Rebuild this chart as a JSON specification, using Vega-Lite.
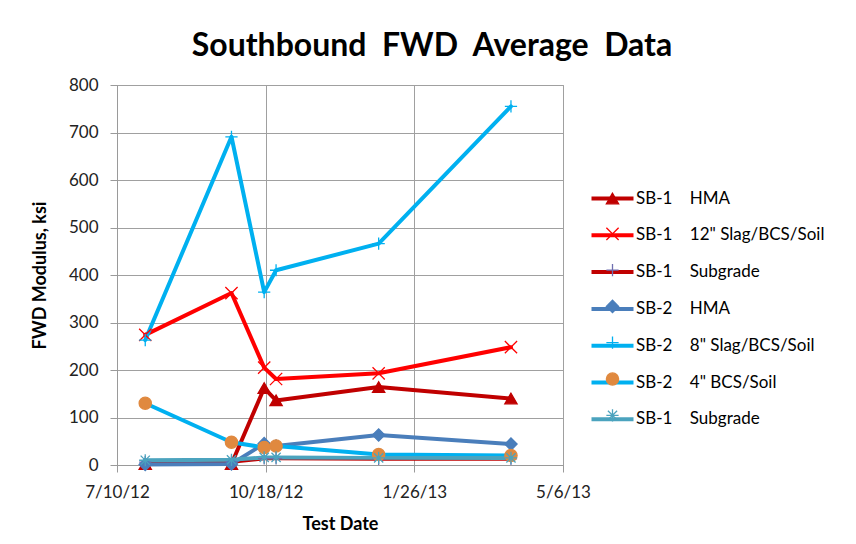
{
  "$schema": "https://vega.github.io/schema/vega-lite/v6.json",
  "width": 446,
  "height": 380,
  "autosize": {"type": "none"},
  "padding": {"left": 117, "top": 85, "right": 293, "bottom": 79},
  "background": "white",
  "title": {
    "text": "Southbound\u00a0 FWD\u00a0 Average\u00a0 Data",
    "font": "Lato",
    "fontSize": 32,
    "fontWeight": "bold",
    "color": "#000000",
    "anchor": "middle",
    "dx": 92,
    "offset": 13
  },
  "config": {
    "view": {"stroke": "#A0A0A0"},
    "axis": {
      "labelFont": "Lato",
      "labelFontSize": 17,
      "labelColor": "#222222",
      "titleFont": "Lato",
      "titleFontSize": 18,
      "titleFontWeight": "bold",
      "titleColor": "#000000",
      "domainColor": "#9A9A9A",
      "tickColor": "#9A9A9A",
      "gridColor": "#A0A0A0",
      "gridOpacity": 1,
      "tickSize": 7
    },
    "legend": {
      "labelFont": "Lato",
      "labelFontSize": 17,
      "labelColor": "#000000",
      "labelLimit": 400,
      "orient": "none",
      "padding": 0,
      "labelOffset": 15,
      "title": null
    }
  },
  "data": {
    "values": [
      {"date": "2012-07-29", "series": "s1", "v": 2},
      {"date": "2012-09-25", "series": "s1", "v": 2},
      {"date": "2012-10-17", "series": "s1", "v": 162},
      {"date": "2012-10-25", "series": "s1", "v": 136},
      {"date": "2013-01-02", "series": "s1", "v": 164},
      {"date": "2013-04-01", "series": "s1", "v": 140},
      {"date": "2012-07-29", "series": "s2", "v": 274},
      {"date": "2012-09-25", "series": "s2", "v": 362},
      {"date": "2012-10-17", "series": "s2", "v": 205},
      {"date": "2012-10-25", "series": "s2", "v": 181},
      {"date": "2013-01-02", "series": "s2", "v": 193},
      {"date": "2013-04-01", "series": "s2", "v": 248},
      {"date": "2012-07-29", "series": "s3", "v": 6},
      {"date": "2012-09-25", "series": "s3", "v": 7},
      {"date": "2012-10-17", "series": "s3", "v": 14},
      {"date": "2012-10-25", "series": "s3", "v": 14},
      {"date": "2013-01-02", "series": "s3", "v": 13},
      {"date": "2013-04-01", "series": "s3", "v": 13},
      {"date": "2012-07-29", "series": "s4", "v": 1},
      {"date": "2012-09-25", "series": "s4", "v": 2},
      {"date": "2012-10-17", "series": "s4", "v": 45},
      {"date": "2012-10-25", "series": "s4", "v": 40},
      {"date": "2013-01-02", "series": "s4", "v": 63},
      {"date": "2013-04-01", "series": "s4", "v": 44},
      {"date": "2012-07-29", "series": "s5", "v": 263},
      {"date": "2012-09-25", "series": "s5", "v": 691},
      {"date": "2012-10-17", "series": "s5", "v": 364},
      {"date": "2012-10-25", "series": "s5", "v": 410},
      {"date": "2013-01-02", "series": "s5", "v": 466},
      {"date": "2013-04-01", "series": "s5", "v": 755},
      {"date": "2012-07-29", "series": "s6", "v": 130},
      {"date": "2012-09-25", "series": "s6", "v": 48},
      {"date": "2012-10-17", "series": "s6", "v": 37},
      {"date": "2012-10-25", "series": "s6", "v": 40},
      {"date": "2013-01-02", "series": "s6", "v": 22},
      {"date": "2013-04-01", "series": "s6", "v": 20},
      {"date": "2012-07-29", "series": "s7", "v": 10},
      {"date": "2012-09-25", "series": "s7", "v": 11},
      {"date": "2012-10-17", "series": "s7", "v": 16},
      {"date": "2012-10-25", "series": "s7", "v": 16},
      {"date": "2013-01-02", "series": "s7", "v": 15},
      {"date": "2013-04-01", "series": "s7", "v": 15}
    ]
  },
  "encoding": {
    "x": {
      "field": "date",
      "type": "temporal",
      "scale": {
        "type": "utc",
        "domain": [
          {"year": 2012, "month": 7, "date": 10, "utc": true},
          {"year": 2013, "month": 5, "date": 6, "utc": true}
        ],
        "nice": false
      },
      "axis": {
        "title": "Test Date",
        "values": [
          {"year": 2012, "month": 7, "date": 10, "utc": true},
          {"year": 2012, "month": 10, "date": 18, "utc": true},
          {"year": 2013, "month": 1, "date": 26, "utc": true},
          {"year": 2013, "month": 5, "date": 6, "utc": true}
        ],
        "labelExpr": "utcFormat(datum.value, '%-m/%-d/%y')",
        "labelPadding": 12,
        "titlePadding": 15,
        "labelFlush": false,
        "labelOverlap": false
      }
    },
    "y": {
      "field": "v",
      "type": "quantitative",
      "scale": {"domain": [0, 800], "nice": false},
      "axis": {
        "title": "FWD Modulus, ksi",
        "values": [0, 100, 200, 300, 400, 500, 600, 700, 800],
        "labelPadding": 12,
        "titlePadding": 19
      }
    }
  },
  "layer": [
    {
      "mark": {"type": "line", "strokeWidth": 4, "strokeJoin": "round", "strokeCap": "round"},
      "encoding": {
        "color": {
          "field": "series",
          "type": "nominal",
          "scale": {
            "domain": ["s1", "s2", "s3", "s4", "s5", "s6", "s7"],
            "range": ["#C00000", "#FF0000", "#C00000", "#4A7EBB", "#00B0F0", "#00B0F0", "#4BA3BE"]
          },
          "legend": {
            "legendX": 487,
            "legendY": 105,
            "rowPadding": 18.8,
            "symbolType": "M-4.2,0H4.2",
            "symbolSize": 100,
            "symbolStrokeWidth": 4,
            "labelExpr": "{'s1':'SB-1\u00a0\u00a0\u00a0\u00a0HMA','s2':'SB-1\u00a0\u00a0\u00a0\u00a012\" Slag/BCS/Soil','s3':'SB-1\u00a0\u00a0\u00a0\u00a0Subgrade','s4':'SB-2\u00a0\u00a0\u00a0\u00a0HMA','s5':'SB-2\u00a0\u00a0\u00a0\u00a08\" Slag/BCS/Soil','s6':'SB-2\u00a0\u00a0\u00a0\u00a04\" BCS/Soil','s7':'SB-1\u00a0\u00a0\u00a0\u00a0Subgrade'}[datum.value]"
          }
        },
        "detail": {"field": "series", "type": "nominal"}
      }
    },
    {
      "transform": [{"calculate": "'m' + substring(datum.series, 1)", "as": "mk"}],
      "mark": {"type": "point", "filled": true, "size": 150, "strokeWidth": 1.3, "opacity": 1},
      "encoding": {
        "shape": {
          "field": "mk",
          "type": "nominal",
          "scale": {
            "domain": ["m1", "m2", "m3", "m4", "m5", "m6", "m7"],
            "range": [
              "triangle-up",
              "M-1,-1L1,1M1,-1L-1,1",
              "M-1,0H1M0,-1V1",
              "diamond",
              "M-1,0H1M0,-1V1",
              "circle",
              "M-1,0H1M0,-1V1M-0.75,-0.75L0.75,0.75M0.75,-0.75L-0.75,0.75"
            ]
          },
          "legend": {
            "legendX": 487,
            "legendY": 105,
            "rowPadding": 17.3,
            "symbolSize": 150,
            "symbolStrokeWidth": 1.3,
            "labelExpr": "'\u00a0'"
          }
        },
        "fill": {
          "field": "mk",
          "type": "nominal",
          "scale": {
            "domain": ["m1", "m2", "m3", "m4", "m5", "m6", "m7"],
            "range": ["#C00000", "transparent", "transparent", "#4A7EBB", "transparent", "#E0893F", "transparent"]
          }
        },
        "stroke": {
          "field": "mk",
          "type": "nominal",
          "scale": {
            "domain": ["m1", "m2", "m3", "m4", "m5", "m6", "m7"],
            "range": ["#C00000", "#FF0000", "#6F6FB0", "#4A7EBB", "#00B0F0", "#E0893F", "#4BA3BE"]
          }
        }
      }
    }
  ]
}
